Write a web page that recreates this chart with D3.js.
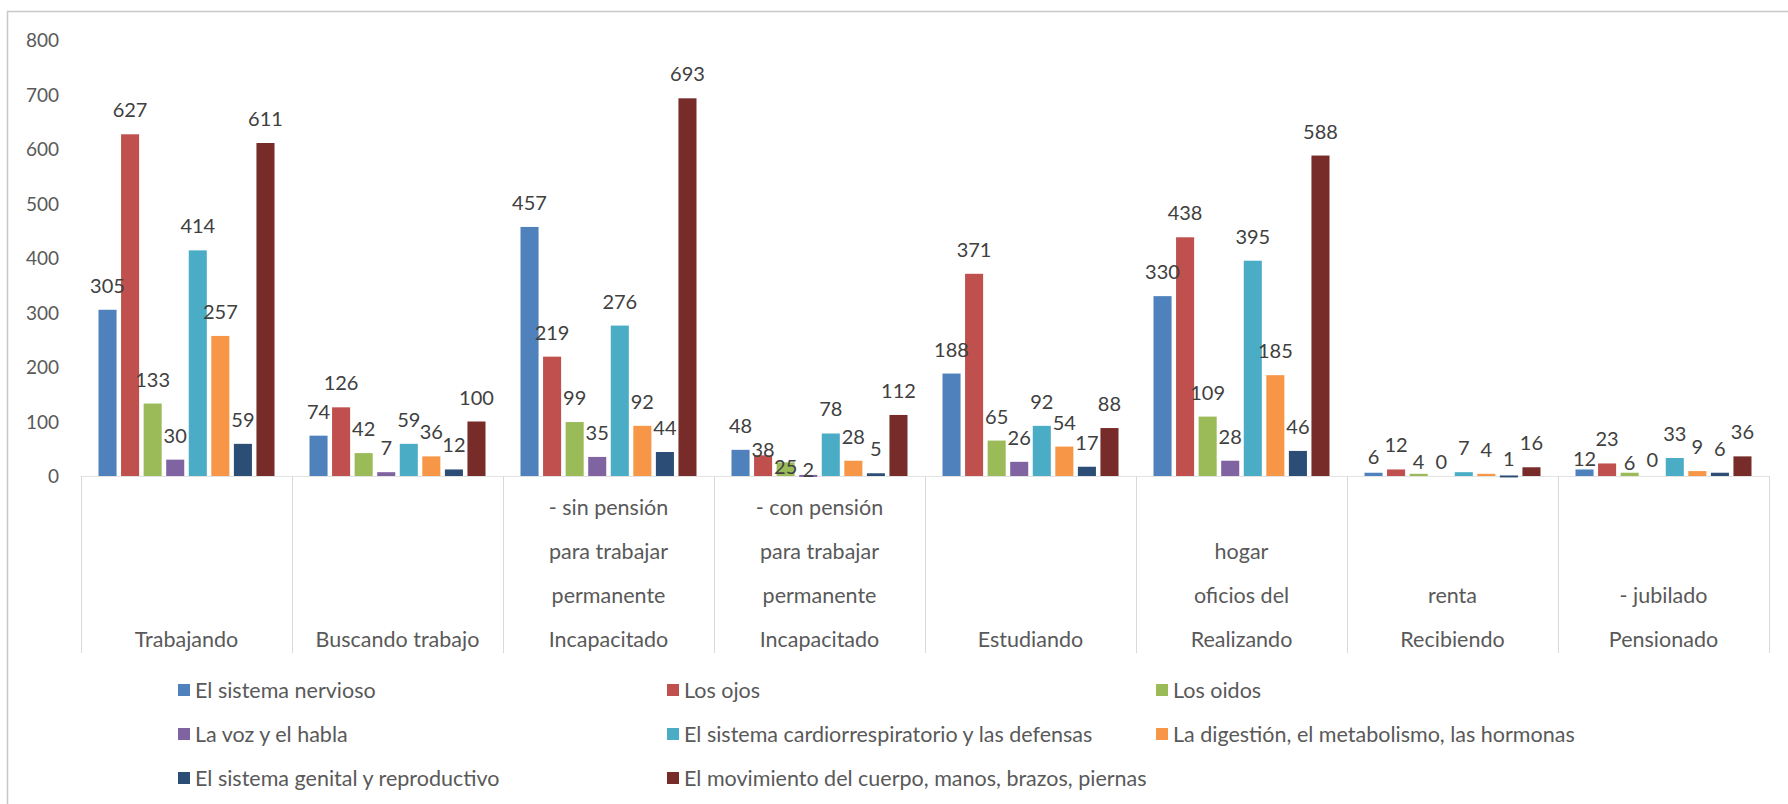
<!DOCTYPE html>
<html>
<head>
<meta charset="utf-8">
<script src="https://cdn.jsdelivr.net/npm/d3@7"></script>
<style>
  html, body { margin: 0; padding: 0; background: #ffffff; }
  svg { display: block; }
  text { font-family: Lato, "Open Sans", sans-serif; }
</style>
</head>
<body>
<svg id="chart" width="1788" height="804"></svg>
<script>
// ---------- data ----------
const categories = [
  ["Trabajando"],
  ["Buscando trabajo"],
  ["- sin pensión", "para trabajar", "permanente", "Incapacitado"],
  ["- con pensión", "para trabajar", "permanente", "Incapacitado"],
  ["Estudiando"],
  ["hogar", "oficios del", "Realizando"],
  ["renta", "Recibiendo"],
  ["- jubilado", "Pensionado"]
];

const seriesNames = [
  "El sistema nervioso",
  "Los ojos",
  "Los oidos",
  "La voz y el habla",
  "El sistema cardiorrespiratorio y las defensas",
  "La digestión, el metabolismo, las hormonas",
  "El sistema genital y reproductivo",
  "El movimiento del cuerpo, manos, brazos, piernas"
];

const nervioso    = [305, 74, 457, 48, 188, 330, 6, 12];
const ojos        = [627, 126, 219, 38, 371, 438, 12, 23];
const oidos       = [133, 42, 99, 25, 65, 109, 4, 6];
const voz         = [30, 7, 35, 2, 26, 28, 0, 0];
const cardio      = [414, 59, 276, 78, 92, 395, 7, 33];
const digestion   = [257, 36, 92, 28, 54, 185, 4, 9];
const genital     = [59, 12, 44, 5, 17, 46, 1, 6];
const movimiento  = [611, 100, 693, 112, 88, 588, 16, 36];

const seriesValues = [nervioso, ojos, oidos, voz, cardio, digestion, genital, movimiento];

const yTicks = [0, 100, 200, 300, 400, 500, 600, 700, 800];

// ---------- style ----------
const colors = ["#4F81BD", "#C0504D", "#9BBB59", "#8064A2", "#4BACC6", "#F79646", "#2C4D75", "#772C2A"];
// small downward shifts (px) of a few crowded value labels, keyed "category-series"
const labelNudge = {"3-1": 19, "3-2": 29, "3-3": 19, "6-0": 8, "6-2": 12, "6-3": 10, "6-6": 8, "7-0": 14, "7-2": 14, "7-3": 8};

const svg = d3.select("#chart");

// outer chart border
svg.append("rect")
  .attr("x", 7.5).attr("y", 11.5)
  .attr("width", 1800).attr("height", 820)
  .attr("fill", "none").attr("stroke", "#c8c8c8").attr("stroke-width", 1.5);

const plot = {left: 81, right: 1769, top: 40, bottom: 476};

const x0 = d3.scaleBand()
  .domain(d3.range(categories.length))
  .range([plot.left, plot.right])
  .paddingInner(0).paddingOuter(0);

const x1 = d3.scaleBand()
  .domain(d3.range(seriesNames.length))
  .range([17.5, x0.bandwidth() - 17.5])
  .paddingInner(0.2).paddingOuter(0);

const y = d3.scaleLinear().domain([0, 800]).range([plot.bottom, plot.top]);

// y axis labels
const yAxis = d3.axisLeft(y).tickValues(yTicks).tickSize(0).tickPadding(0);
const yG = svg.append("g").attr("transform", "translate(59,0)").call(yAxis);
yG.select(".domain").remove();
yG.selectAll("text")
  .attr("font-family", "Lato, sans-serif")
  .attr("font-size", 19)
  .attr("fill", "#595959")
  .attr("dy", "0.36em");

// baseline
svg.append("line")
  .attr("x1", plot.left).attr("x2", plot.right)
  .attr("y1", y(0) + 0.5).attr("y2", y(0) + 0.5)
  .attr("stroke", "#e3e3e3").attr("stroke-width", 1);

// category separators
svg.append("g").selectAll("line")
  .data(d3.range(categories.length + 1))
  .join("line")
  .attr("x1", i => i < categories.length ? x0(i) + 0.5 : plot.right + 0.5)
  .attr("x2", i => i < categories.length ? x0(i) + 0.5 : plot.right + 0.5)
  .attr("y1", y(0)).attr("y2", 653)
  .attr("stroke", "#d9d9d9").attr("stroke-width", 1);

// bars
const groups = svg.append("g").selectAll("g")
  .data(categories.map((c, ci) => ci))
  .join("g")
  .attr("transform", ci => `translate(${x0(ci)},0)`);

groups.selectAll("rect")
  .data(ci => seriesValues.map((vals, si) => ({ci, si, v: vals[ci]})))
  .join("rect")
  .attr("x", d => x1(d.si))
  .attr("width", x1.bandwidth())
  .attr("y", d => y(d.v))
  .attr("height", d => Math.max(y(0) - y(d.v), d.v > 0 ? 2 : 0))
  .attr("fill", d => colors[d.si]);

// value labels
groups.selectAll("text.val")
  .data(ci => seriesValues.map((vals, si) => ({ci, si, v: vals[ci]})))
  .join("text")
  .attr("class", "val")
  .attr("x", d => x1(d.si) + x1.bandwidth() / 2)
  .attr("y", d => y(d.v) - 17 + (labelNudge[d.ci + "-" + d.si] || 0))
  .attr("text-anchor", "middle")
  .attr("font-size", 20)
  .attr("fill", "#404040")
  .text(d => d.v);

// category labels (bottom aligned, multiple lines)
const catG = svg.append("g");
categories.forEach((lines, ci) => {
  const n = lines.length;
  lines.forEach((line, li) => {
    catG.append("text")
      .attr("x", x0(ci) + x0.bandwidth() / 2)
      .attr("y", 647 - (n - 1 - li) * 44)
      .attr("text-anchor", "middle")
      .attr("font-size", 21.5)
      .attr("fill", "#595959")
      .text(line);
  });
});

// legend (3 columns, row-major)
const legend = svg.append("g");
const legX = [178, 667, 1156];
const legY = [690, 734, 778];
seriesNames.forEach((name, i) => {
  const col = i % 3, row = Math.floor(i / 3);
  const g = legend.append("g").attr("transform", `translate(${legX[col]},${legY[row]})`);
  g.append("rect").attr("x", 0).attr("y", -6).attr("width", 12).attr("height", 12).attr("fill", colors[i]);
  g.append("text").attr("x", 17).attr("y", 7.5)
    .attr("font-size", 21.5).attr("fill", "#595959").text(name);
});
</script>
</body>
</html>
